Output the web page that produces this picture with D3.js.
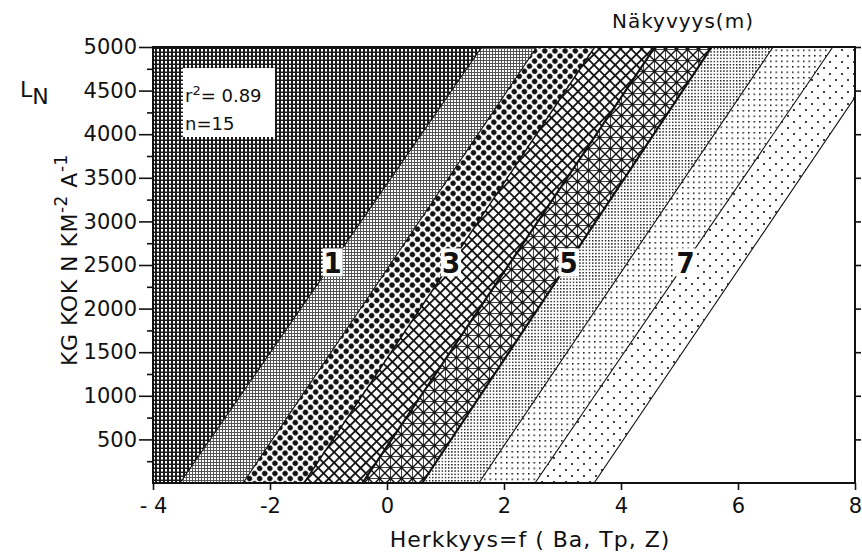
<!DOCTYPE html>
<html>
<head>
<meta charset="utf-8" />
<title>Näkyvyys</title>
<script src="https://d3js.org/d3.v7.min.js"></script>
<style>
html, body { margin: 0; padding: 0; background: #fff; }
svg { display: block; }
text { font-family: "DejaVu Sans", sans-serif; fill: #111; }
.tick line { stroke: #111; stroke-width: 1.6; }
.num { font-family: "DejaVu Sans Condensed", "DejaVu Sans", sans-serif; font-weight: bold; font-size: 29px; }
</style>
</head>
<body>
<script>
// x of each boundary line at L_N = 0 and at L_N = 5000
const lineBottomX = [-3.54, -2.46, -1.42, -0.42, 0.60, 1.57, 2.53, 3.54];
const lineTopX    = [ 1.62,  2.56,  3.55,  4.58, 5.55, 6.60, 7.62, 8.58];
const lineLabels = ["1", "3", "5", "7"];
const lineLabelIndex = [0, 2, 4, 6];
const labelLevel = 2530;
const xTicks = [-4, -2, 0, 2, 4, 6, 8];
const xTickLabels = ["- 4", "-2", "0", "2", "4", "6", "8"];
const yTicks = [500, 1000, 1500, 2000, 2500, 3000, 3500, 4000, 4500, 5000];
const yMinorTicks = [250, 750, 1250, 1750, 2250, 2750, 3250, 3750, 4250, 4750];
const statsLines = ["= 0.89", "n=15"];

const width = 862, height = 555;
const plot = {left: 153, right: 855, top: 47, bottom: 483};

const svg = d3.select("body").append("svg").attr("width", width).attr("height", height);
const x = d3.scaleLinear().domain([-4, 8]).range([plot.left, plot.right]);
const y = d3.scaleLinear().domain([0, 5000]).range([plot.bottom, plot.top]);

const defs = svg.append("defs");
defs.append("clipPath").attr("id", "plotclip").append("rect")
    .attr("x", plot.left).attr("y", plot.top)
    .attr("width", plot.right - plot.left).attr("height", plot.bottom - plot.top);

function pattern(id, w, h, bg, transform) {
    let p = defs.append("pattern").attr("id", id).attr("patternUnits", "userSpaceOnUse")
        .attr("width", w).attr("height", h);
    if (transform) p.attr("patternTransform", transform);
    p.append("rect").attr("width", w).attr("height", h).attr("fill", bg);
    return p;
}
// coarse grid, darkest
pattern("p0", 4, 4, "#1a1a1a").append("rect").attr("x", 1).attr("y", 1).attr("width", 2).attr("height", 2.5).attr("fill", "#fff");
// finer, lighter grid
pattern("p1", 3, 3, "#555").append("rect").attr("x", 1).attr("y", 1).attr("width", 2).attr("height", 2).attr("fill", "#fff");
// big dots
pattern("p2", 7.2, 7.2, "#fff", "rotate(45)").append("circle").attr("cx", 3.6).attr("cy", 3.6).attr("r", 2.7).attr("fill", "#111");
// diagonal cross hatch
let p3 = pattern("p3", 7.5, 7.5, "#fff", "rotate(45)");
p3.append("rect").attr("width", 7.5).attr("height", 1.8).attr("fill", "#111");
p3.append("rect").attr("width", 1.8).attr("height", 7.5).attr("fill", "#111");
// star lattice
let p4 = pattern("p4", 11, 11, "#fff");
p4.append("path").attr("d", "M0,0L11,11M11,0L0,11").attr("stroke", "#111").attr("stroke-width", 1.4);
p4.append("path").attr("d", "M5.5,0V11M0,5.5H11").attr("stroke", "#111").attr("stroke-width", 0.8);
// fine dots
pattern("p5", 3.2, 3.2, "#fff").append("rect").attr("width", 1.4).attr("height", 1.4).attr("fill", "#111");
// medium dots
pattern("p6", 5.5, 5.5, "#fff").append("rect").attr("width", 1.5).attr("height", 1.5).attr("fill", "#111");
// sparse dots
let p7 = pattern("p7", 12, 12, "#fff");
p7.append("circle").attr("cx", 2).attr("cy", 2).attr("r", 1.1).attr("fill", "#111");
p7.append("circle").attr("cx", 8).attr("cy", 8).attr("r", 1.1).attr("fill", "#111");

const bandFill = ["url(#p0)", "url(#p1)", "url(#p2)", "url(#p3)", "url(#p4)", "url(#p5)", "url(#p6)", "url(#p7)", "#fff"];

// bands between consecutive lines, the outer ones pushed far outside the frame
let bounds = [[-20, -20]].concat(lineBottomX.map((b, i) => [b, lineTopX[i]])).concat([[30, 30]]);
let bands = d3.range(bounds.length - 1).map(i => ({left: bounds[i], right: bounds[i + 1], fill: bandFill[i]}));

let area = svg.append("g").attr("clip-path", "url(#plotclip)");
area.selectAll("polygon.band").data(bands).enter().append("polygon")
    .attr("class", "band")
    .attr("points", d => [[d.left[0], 0], [d.right[0], 0], [d.right[1], 5000], [d.left[1], 5000]]
        .map(p => x(p[0]) + "," + y(p[1])).join(" "))
    .attr("fill", d => d.fill);

const lineWidth = i => (i === 3 || i === 4) ? 2.2 : (i === 2 ? 1.5 : 1.1);
area.selectAll("line.bound").data(lineBottomX).enter().append("line")
    .attr("class", "bound")
    .attr("x1", d => x(d)).attr("y1", y(0))
    .attr("x2", (d, i) => x(lineTopX[i])).attr("y2", y(5000))
    .attr("stroke", "#111").attr("stroke-width", (d, i) => lineWidth(i));

// line numbers sitting on the lines
let labels = area.selectAll("g.lab").data(lineLabels).enter().append("g").attr("class", "lab")
    .attr("transform", (d, i) => {
        let k = lineLabelIndex[i];
        let xv = lineBottomX[k] + (lineTopX[k] - lineBottomX[k]) * labelLevel / 5000;
        return "translate(" + x(xv) + "," + y(labelLevel) + ")";
    });
labels.append("rect").attr("x", -10).attr("y", -14).attr("width", 20).attr("height", 28).attr("fill", "#fff");
labels.append("text").attr("class", "num").attr("text-anchor", "middle").attr("y", 11).text(d => d);

// r2 box
svg.append("rect").attr("x", 183).attr("y", 68).attr("width", 92).attr("height", 69).attr("fill", "#fff");
let st = svg.append("text").attr("x", 185).attr("y", 102).style("font-size", "18px");
st.append("tspan").text("r");
st.append("tspan").attr("dy", -7).style("font-size", "13px").text("2");
st.append("tspan").attr("dy", 7).text(statsLines[0]);
svg.append("text").attr("x", 185).attr("y", 130).style("font-size", "18px").text(statsLines[1]);

// frame
svg.append("rect").attr("x", plot.left).attr("y", plot.top)
    .attr("width", plot.right - plot.left).attr("height", plot.bottom - plot.top)
    .attr("fill", "none").attr("stroke", "#111").attr("stroke-width", 2);

// axes
svg.append("g").attr("transform", "translate(" + plot.left + ",0)")
    .call(d3.axisLeft(y).tickValues(yTicks).tickSize(14).tickPadding(2).tickFormat(d3.format("d")));
svg.append("g").attr("transform", "translate(" + plot.left + ",0)")
    .call(d3.axisLeft(y).tickValues(yMinorTicks).tickSize(6).tickFormat(""));
svg.append("g").attr("transform", "translate(" + plot.right + ",0)")
    .call(d3.axisRight(y).tickValues(yTicks).tickSize(6).tickFormat(""));
svg.append("g").attr("transform", "translate(0," + plot.bottom + ")")
    .call(d3.axisBottom(x).tickValues(xTicks).tickSize(7).tickPadding(8).tickFormat((d, i) => xTickLabels[i]));
svg.selectAll(".domain").remove();
svg.selectAll(".tick text").attr("fill", "#111")
    .style("font-family", "DejaVu Sans, sans-serif").style("font-size", "21px");

// titles
svg.append("text").attr("x", 612).attr("y", 28).style("font-size", "20px").style("letter-spacing", "1px").text("Näkyvyys(m)");
svg.append("text").attr("x", 530).attr("y", 547).attr("text-anchor", "middle")
    .style("font-size", "22px").style("letter-spacing", "1px").text("Herkkyys=f ( Ba, Tp, Z)");

let ln = svg.append("text").attr("x", 20).attr("y", 97).style("font-size", "22px");
ln.append("tspan").text("L");
ln.append("tspan").attr("dy", 7).text("N");

let yl = svg.append("text").attr("transform", "translate(77,260) rotate(-90)")
    .attr("text-anchor", "middle").style("font-size", "22px").style("letter-spacing", "0.5px");
yl.append("tspan").text("KG KOK N KM");
yl.append("tspan").attr("dy", -10).style("font-size", "17px").text("-2");
yl.append("tspan").attr("dy", 10).text(" A");
yl.append("tspan").attr("dy", -10).style("font-size", "17px").text("-1");
</script>
</body>
</html>
